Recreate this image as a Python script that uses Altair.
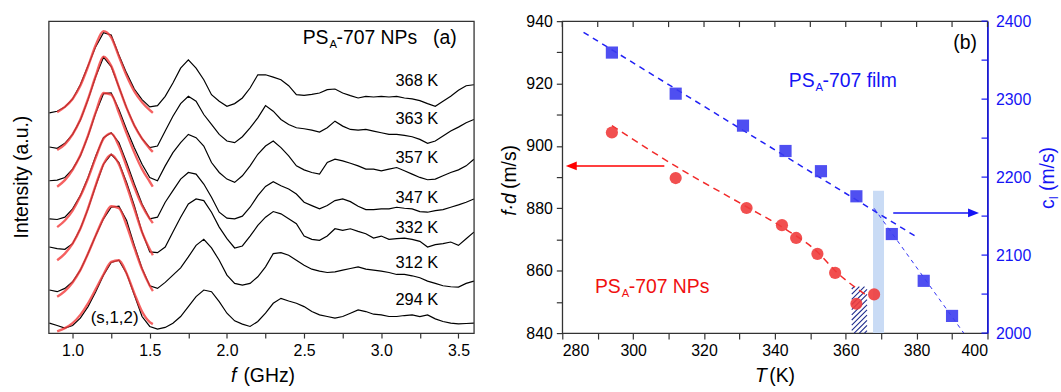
import altair as alt
import numpy as np
import pandas as pd

FONT = "Liberation Sans, Arial, Helvetica, sans-serif"
BLUE = "#1414f5"
RED = "#f01e1e"

# ---------------- panel (a): spectra ----------------
FREQ = [round(0.85 + 0.05 * i, 2) for i in range(56)]
TEMP_LABELS = ["368 K", "363 K", "357 K", "347 K", "332 K", "312 K", "294 K"]
I368 = [665, 670, 683, 707, 750, 807, 865, 907, 900, 840, 785, 737, 705, 683, 687, 715, 755, 800, 825, 800,
        765, 720, 700, 685, 693, 710, 740, 780, 780, 773, 765, 747, 720, 718, 721, 725, 735, 737, 725, 717,
        710, 715, 713, 715, 713, 715, 710, 707, 702, 693, 685, 700, 715, 733, 747, 750]
I363 = [562, 558, 573, 600, 643, 705, 775, 833, 805, 743, 680, 627, 587, 560, 565, 610, 655, 693, 715, 700,
        660, 630, 600, 580, 575, 593, 620, 650, 687, 670, 645, 630, 620, 617, 613, 607, 620, 640, 625, 615,
        613, 615, 610, 605, 600, 600, 597, 593, 585, 573, 580, 595, 610, 622, 635, 645]
I357 = [460, 462, 470, 495, 535, 595, 665, 723, 725, 675, 615, 560, 510, 470, 460, 505, 545, 575, 600, 590,
        565, 515, 485, 465, 455, 475, 505, 540, 565, 580, 560, 535, 505, 493, 485, 480, 515, 525, 520, 513,
        505, 495, 495, 490, 495, 500, 490, 480, 470, 463, 465, 475, 485, 493, 505, 525]
I347 = [345, 343, 350, 375, 415, 470, 535, 590, 605, 575, 515, 450, 390, 345, 350, 395, 430, 465, 485, 480,
        450, 410, 365, 347, 345, 353, 380, 415, 443, 457, 445, 435, 420, 395, 385, 375, 385, 400, 405, 397,
        383, 373, 373, 375, 375, 380, 377, 375, 367, 365, 370, 373, 380, 387, 395, 405]
I332 = [260, 255, 253, 270, 315, 375, 445, 510, 540, 515, 455, 385, 305, 245, 243, 260, 305, 350, 390, 405,
        400, 365, 320, 285, 257, 263, 293, 325, 350, 367, 360, 345, 330, 293, 283, 280, 293, 315, 310, 315,
        307, 300, 287, 293, 283, 285, 287, 283, 277, 260, 267, 270, 275, 265, 285, 305]
I312 = [130, 125, 135, 155, 190, 240, 295, 345, 380, 383, 340, 265, 195, 143, 135, 153, 175, 197, 230, 265,
        283, 257, 220, 175, 150, 145, 150, 170, 200, 240, 243, 235, 220, 205, 193, 187, 183, 185, 190, 195,
        200, 193, 190, 187, 183, 177, 177, 173, 167, 157, 150, 143, 140, 139, 150, 157]
I294 = [30, 23, 15, 23, 45, 80, 125, 175, 213, 220, 180, 115, 50, 20, 12, 17, 30, 50, 80, 110,
        130, 125, 95, 60, 37, 27, 20, 35, 60, 90, 105, 97, 90, 80, 65, 55, 50, 45, 50, 60,
        70, 65, 57, 55, 50, 50, 53, 55, 50, 55, 43, 35, 30, 28, 29, 30]
SPECTRA = [I368, I363, I357, I347, I332, I312, I294]

FIT_FREQ = [0.9, 0.95, 1.0, 1.05, 1.1, 1.15, 1.2, 1.25, 1.3, 1.35, 1.4, 1.45, 1.5, 1.52]
F368 = [667, 683, 707, 747, 805, 870, 912, 893, 835, 777, 730, 697, 673, 665]
F363 = [553, 570, 600, 645, 707, 777, 835, 807, 743, 680, 627, 587, 557, 547]
F357 = [442, 462, 493, 537, 597, 667, 725, 720, 665, 603, 545, 495, 457, 442]
F347 = [320, 340, 370, 413, 467, 530, 587, 603, 565, 503, 440, 385, 345, 332]
F332 = [220, 240, 270, 315, 377, 447, 510, 539, 510, 445, 375, 305, 253, 235]
F312 = [110, 127, 153, 190, 240, 295, 347, 383, 377, 325, 257, 193, 143, 127]
F294 = [5, 15, 30, 55, 90, 133, 177, 215, 220, 180, 120, 65, 33, 27]
FITS = [F368, F363, F357, F347, F332, F312, F294]

LABEL_F = 3.092
LABEL_AU = [760, 645, 530, 408, 317, 212, 100]
TICKS_A = [1.0 + 0.25 * i for i in range(11)]

# ---------------- panel (b) ----------------
T_NP = [294, 312, 332, 342, 346, 352, 357, 363, 368]
FD_NP = [904.3, 889.7, 880.1, 874.6, 870.5, 865.4, 859.3, 849.4, 852.4]
T_FILM = [294, 312, 331, 343, 353, 363, 373, 382, 390]
CL_FILM = [2359.7, 2307, 2266, 2233.5, 2207.6, 2175.4, 2127, 2067, 2022]
NP_FIT_T = [294, 312, 332, 342, 352, 357, 366]
NP_FIT_FD = [906.5, 893.5, 880.5, 874.0, 866.0, 860.0, 852.0]
FILM_FIT1_T = [286, 379.6]
FILM_FIT1_CL = [2385.6, 2124.4]
FILM_FIT2_T = [368, 393.3]
FILM_FIT2_CL = [2160, 2000]
BAND_T = [367.7, 370.8]
BAND_FD = [840, 885.6]
HATCH_T = [361.7, 366.0]
HATCH_FD = [840, 854.9]
RED_ARROW_T = [281.0, 308.8]
RED_ARROW_FD = 893.6
BLUE_ARROW_T = [373.4, 397.6]
BLUE_ARROW_CL = 2154
TICKS_B = list(range(280, 401, 10))
TICKS_FD = list(range(840, 941, 10))
TICKS_CL_MINOR = list(range(2000, 2401, 50))
TICKS_CL = list(range(2000, 2401, 100))

W, H = 428, 314

# ---------------- chart (a) ----------------
axis_a = alt.Axis(values=TICKS_A,
                  labelExpr="abs(datum.value*2 - round(datum.value*2)) < 0.001 ? format(datum.value, '.1f') : ''",
                  tickSize=5, labelPadding=5, domain=False, grid=False, title=None,
                  tickColor="#333333", tickWidth=1.2, labelFontSize=16, labelFont=FONT, labelColor="black")


def xa(field="f"):
    return alt.X(f"{field}:Q", scale=alt.Scale(domain=[0.845, 3.6], nice=False, zero=False), axis=axis_a)


def ya(field="I"):
    return alt.Y(f"{field}:Q", scale=alt.Scale(domain=[0, 942], nice=False, zero=False), axis=None)


rows = []
for lab, ser in zip(TEMP_LABELS, SPECTRA):
    for f, v in zip(FREQ, ser):
        rows.append({"T": lab, "f": f, "I": v})
df_spec = pd.DataFrame(rows)
rows = []
for lab, ser in zip(TEMP_LABELS, FITS):
    for f, v in zip(FIT_FREQ, ser):
        rows.append({"T": lab, "f": f, "I": v})
df_fit = pd.DataFrame(rows)
df_lab = pd.DataFrame({"T": TEMP_LABELS, "f": [LABEL_F] * 7, "I": LABEL_AU})

black = alt.Chart(df_spec).mark_line(color="black", strokeWidth=1.2, clip=True).encode(
    x=xa(), y=ya(), detail="T:N")
fits = alt.Chart(df_fit).mark_line(color="#f23a3a", strokeWidth=2.4, opacity=0.8,
                                   interpolate="monotone", clip=True).encode(
    x=xa(), y=ya(), detail="T:N")
temps = alt.Chart(df_lab).mark_text(align="left", baseline="middle", font=FONT, fontSize=16.5,
                                    color="black").encode(x=xa(), y=ya(), text="T:N")
mode = alt.Chart(pd.DataFrame({"f": [1.272], "I": [45], "t": ["(s,1,2)"]})).mark_text(
    align="center", baseline="middle", font=FONT, fontSize=17, color="black").encode(
    x=xa(), y=ya(), text="t:N")


def sub_label(df, xenc, yenc, main, sub, rest, color, size, sub_w):
    base = alt.Chart(df)
    a = base.mark_text(align="right", baseline="middle", font=FONT, fontSize=size, color=color,
                       text=main).encode(x=xenc, y=yenc)
    b = base.mark_text(align="left", baseline="middle", font=FONT, fontSize=size * 0.58, color=color,
                       dx=1, dy=size * 0.36, text=sub).encode(x=xenc, y=yenc)
    c = base.mark_text(align="left", baseline="middle", font=FONT, fontSize=size, color=color,
                       dx=sub_w, text=rest).encode(x=xenc, y=yenc)
    return [a, b, c]


title_a = sub_label(pd.DataFrame({"f": [2.658], "I": [890]}), xa(), ya(),
                    "PS", "A", "-707 NPs", "black", 19.5, 8)
label_a = alt.Chart(pd.DataFrame({"f": [3.412], "I": [890], "t": ["(a)"]})).mark_text(
    align="center", baseline="middle", font=FONT, fontSize=19.5, color="black").encode(
    x=xa(), y=ya(), text="t:N")

one = pd.DataFrame({"k": [0]})
ytitle_a = alt.Chart(one).mark_text(angle=270, align="center", baseline="middle", font=FONT,
                                    fontSize=19.5, color="black", text="Intensity (a.u.)").encode(
    x=alt.value(-27), y=alt.value(157))
xt_a1 = alt.Chart(one).mark_text(align="left", baseline="middle", font=FONT, fontSize=19.5,
                                 fontStyle="italic", color="black", text="f").encode(
    x=alt.value(183.5), y=alt.value(357.5))
xt_a2 = alt.Chart(one).mark_text(align="left", baseline="middle", font=FONT, fontSize=19.5,
                                 color="black", text="(GHz)").encode(
    x=alt.value(196), y=alt.value(357.5))

chart_a = alt.layer(black, fits, temps, mode, *title_a, label_a, ytitle_a, xt_a1, xt_a2).properties(
    width=W, height=H)

# ---------------- chart (b) ----------------
axis_b = alt.Axis(values=TICKS_B, labelExpr="datum.value % 20 == 0 ? format(datum.value, 'd') : ''",
                  tickSize=6, labelPadding=4, domain=False, grid=False, title=None,
                  tickColor="#333333", tickWidth=1.2, labelFontSize=16, labelFont=FONT, labelColor="black")


def xb(field="T"):
    return alt.X(f"{field}:Q", scale=alt.Scale(domain=[280, 400], nice=False, zero=False), axis=axis_b)


def yl(field="fd", axis=None):
    return alt.Y(f"{field}:Q", scale=alt.Scale(domain=[840, 940], nice=False, zero=False), axis=axis)


def yr(field="cl", axis=None):
    return alt.Y(f"{field}:Q", scale=alt.Scale(domain=[2000, 2400], nice=False, zero=False), axis=axis)


axis_left = alt.Axis(values=TICKS_FD, labelExpr="datum.value % 20 == 0 ? format(datum.value, 'd') : ''",
                     tickSize=6, labelPadding=4, domain=False, grid=False, title=None,
                     tickColor="#333333", tickWidth=1.2, labelFontSize=16, labelFont=FONT,
                     labelColor="black")
axis_right = alt.Axis(orient="right", values=TICKS_CL, format="d", ticks=False, labelPadding=8,
                      domain=True, domainColor=BLUE, domainWidth=1.5, grid=False, title=None,
                      labelFontSize=16, labelFont=FONT, labelColor=BLUE)

band = alt.Chart(pd.DataFrame({"T": [BAND_T[0]], "T2": [BAND_T[1]], "fd": [BAND_FD[0]],
                               "fd2": [BAND_FD[1]]})).mark_rect(color="#c9dbf5").encode(
    x=xb("T"), x2="T2:Q", y=yl("fd"), y2="fd2:Q")

# hatch lines of the shaded region, derived from its extent
pxK = W / 120.0
pxF = H / 100.0
w_px = (HATCH_T[1] - HATCH_T[0]) * pxK
h_px = (HATCH_FD[1] - HATCH_FD[0]) * pxF
hrows = []
for c in np.arange(-w_px + 2.5, h_px, 5.2):
    u0 = max(0.0, -c)
    u1 = min(w_px, h_px - c)
    if u1 > u0:
        hrows.append({"T": HATCH_T[0] + u0 / pxK, "fd": HATCH_FD[0] + (u0 + c) / pxF,
                      "T2": HATCH_T[0] + u1 / pxK, "fd2": HATCH_FD[0] + (u1 + c) / pxF})
hatch = alt.Chart(pd.DataFrame(hrows)).mark_rule(color="#1c2a8c", strokeWidth=1.1).encode(
    x=xb("T"), x2="T2:Q", y=yl("fd"), y2="fd2:Q")

np_fit = alt.Chart(pd.DataFrame({"T": NP_FIT_T, "fd": NP_FIT_FD})).mark_line(
    color="#f22a2a", strokeWidth=1.5, strokeDash=[7, 5], interpolate="monotone").encode(
    x=xb("T"), y=yl("fd"))
film_fit1 = alt.Chart(pd.DataFrame({"T": FILM_FIT1_T, "cl": FILM_FIT1_CL})).mark_line(
    color="#2020f5", strokeWidth=1.5, strokeDash=[6, 5]).encode(x=xb("T"), y=yr("cl"))
film_fit2 = alt.Chart(pd.DataFrame({"T": FILM_FIT2_T, "cl": FILM_FIT2_CL})).mark_line(
    color="#3030f5", strokeWidth=1.0, strokeDash=[4, 4], clip=True).encode(x=xb("T"), y=yr("cl"))

circles = alt.Chart(pd.DataFrame({"T": T_NP, "fd": FD_NP})).mark_point(
    shape="circle", filled=True, size=150, color="#f03c3c", opacity=0.9).encode(
    x=xb("T"), y=yl("fd", axis_left))
squares = alt.Chart(pd.DataFrame({"T": T_FILM, "cl": CL_FILM})).mark_point(
    shape="square", filled=True, size=150, color="#3c3cf0", opacity=0.9).encode(
    x=xb("T"), y=yr("cl", axis_right))

red_shaft = alt.Chart(pd.DataFrame({"T": [RED_ARROW_T[0] + 1.5], "T2": [RED_ARROW_T[1]],
                                    "fd": [RED_ARROW_FD]})).mark_rule(color="red", strokeWidth=1.5).encode(
    x=xb("T"), x2="T2:Q", y=yl("fd"))
red_head = alt.Chart(pd.DataFrame({"T": [RED_ARROW_T[0]], "fd": [RED_ARROW_FD]})).mark_point(
    shape="M -1 0 L 1 -0.8 L 1 0.8 Z", filled=True, size=121, xOffset=5.5, color="red",
    opacity=1).encode(x=xb("T"), y=yl("fd"))
blue_shaft = alt.Chart(pd.DataFrame({"T": [BLUE_ARROW_T[0]], "T2": [BLUE_ARROW_T[1] - 1.5],
                                     "cl": [BLUE_ARROW_CL]})).mark_rule(color=BLUE, strokeWidth=1.5).encode(
    x=xb("T"), x2="T2:Q", y=yr("cl"))
blue_head = alt.Chart(pd.DataFrame({"T": [BLUE_ARROW_T[1]], "cl": [BLUE_ARROW_CL]})).mark_point(
    shape="M 1 0 L -1 -0.8 L -1 0.8 Z", filled=True, size=121, xOffset=-5.5, color=BLUE,
    opacity=1).encode(x=xb("T"), y=yr("cl"))

top_ticks = alt.Chart(pd.DataFrame({"T": TICKS_B})).mark_rule(color="#333333", strokeWidth=1.2).encode(
    x=xb("T"), y=alt.value(0), y2=alt.value(6))
right_ticks = alt.Chart(pd.DataFrame({"cl": TICKS_CL_MINOR})).mark_rule(color=BLUE, strokeWidth=1.2).encode(
    y=yr("cl"), x=alt.value(W - 6), x2=alt.value(W))

film_label = sub_label(pd.DataFrame({"T": [351.2], "fd": [920.7]}), xb("T"), yl("fd"),
                       "PS", "A", "-707 film", BLUE, 19.5, 8)
np_label = sub_label(pd.DataFrame({"T": [296.5], "fd": [854.9]}), xb("T"), yl("fd"),
                     "PS", "A", "-707 NPs", "#f01010", 19.5, 8)
label_b = alt.Chart(pd.DataFrame({"T": [393.7], "fd": [933.1], "t": ["(b)"]})).mark_text(
    align="center", baseline="middle", font=FONT, fontSize=19.5, color="black").encode(
    x=xb("T"), y=yl("fd"), text="t:N")

xt_b1 = alt.Chart(one).mark_text(align="left", baseline="middle", font=FONT, fontSize=19.5,
                                 fontStyle="italic", color="black", text="T").encode(
    x=alt.value(194), y=alt.value(357.5))
xt_b2 = alt.Chart(one).mark_text(align="left", baseline="middle", font=FONT, fontSize=19.5,
                                 color="black", text="(K)").encode(
    x=alt.value(208.3), y=alt.value(357.5))
yt_l1 = alt.Chart(one).mark_text(angle=270, align="left", baseline="middle", font=FONT, fontSize=19.5,
                                 fontStyle="italic", color="black", text="f·d").encode(
    x=alt.value(-53), y=alt.value(196))
yt_l2 = alt.Chart(one).mark_text(angle=270, align="left", baseline="middle", font=FONT, fontSize=19.5,
                                 color="black", text="(m/s)", dx=27).encode(
    x=alt.value(-53), y=alt.value(196))
yt_r1 = alt.Chart(one).mark_text(angle=270, align="left", baseline="middle", font=FONT, fontSize=19.5,
                                 color=BLUE, text="c").encode(x=alt.value(W + 61), y=alt.value(189))
yt_r2 = alt.Chart(one).mark_text(angle=270, align="left", baseline="middle", font=FONT, fontSize=12,
                                 color=BLUE, text="l", dx=10, dy=6).encode(x=alt.value(W + 61), y=alt.value(189))
yt_r3 = alt.Chart(one).mark_text(angle=270, align="left", baseline="middle", font=FONT, fontSize=19.5,
                                 color=BLUE, text="(m/s)", dx=18).encode(x=alt.value(W + 61), y=alt.value(189))

chart_b = alt.layer(band, hatch, np_fit, film_fit1, film_fit2, circles, squares,
                    red_shaft, red_head, blue_shaft, blue_head, top_ticks, right_ticks,
                    *film_label, *np_label, label_b, xt_b1, xt_b2, yt_l1, yt_l2,
                    yt_r1, yt_r2, yt_r3).resolve_scale(y="independent").properties(width=W, height=H)

chart = alt.hconcat(chart_a, chart_b, spacing=24).properties(
    padding={"left": 11, "top": 11, "right": 0, "bottom": 0},
    background="white",
).configure_view(stroke="#333333", strokeWidth=1.3)

chart.save("out.html", embed_options={"renderer": "svg", "actions": False})
